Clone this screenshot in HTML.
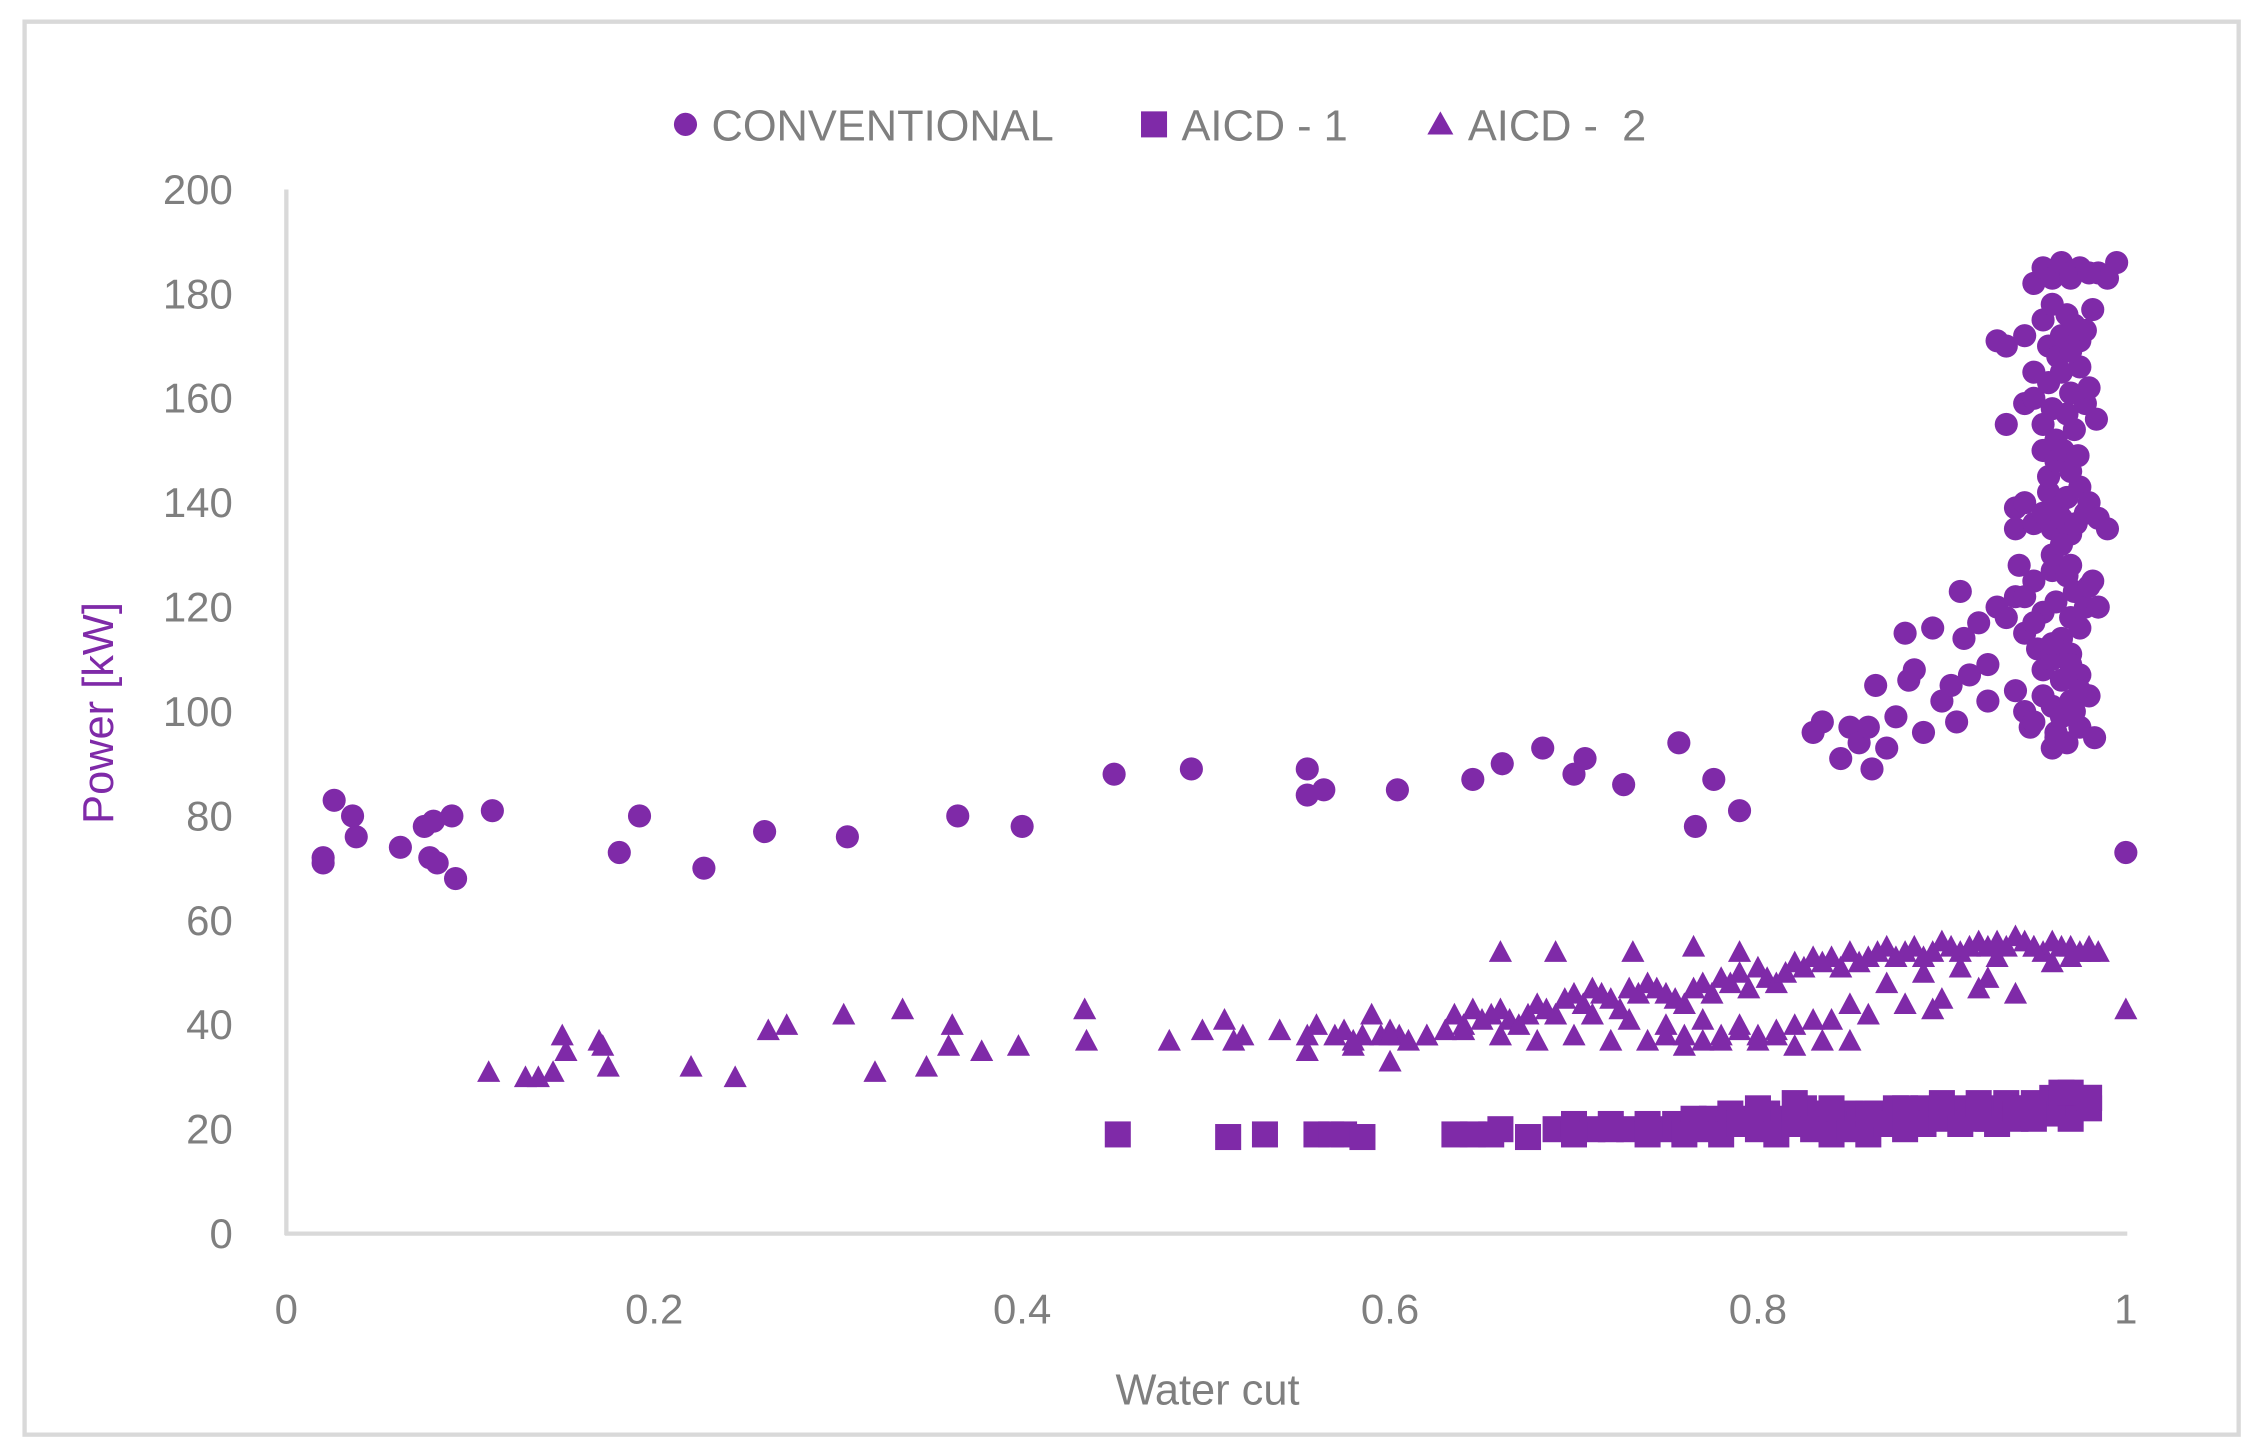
<!DOCTYPE html>
<html><head><meta charset="utf-8"><style>
html,body{margin:0;padding:0;background:#fff;}
svg{display:block;}
text{font-family:"Liberation Sans",sans-serif;}
</style></head><body>
<svg id="chart" width="2256" height="1452" viewBox="0 0 1560 1004" preserveAspectRatio="none" xmlns="http://www.w3.org/2000/svg">
<rect x="17" y="15" width="1531" height="977" fill="#fff" stroke="#d9d9d9" stroke-width="3"/>
<g id="legend">
<g><circle cx="474" cy="86" r="8" fill="#7f2aa8"/><text x="492" y="97" font-size="30" fill="#7f7f7f">CONVENTIONAL</text></g>
<g><rect x="789" y="77" width="18" height="18" fill="#7f2aa8"/><text x="817" y="97" font-size="30" fill="#7f7f7f">AICD - 1</text></g>
<g><polygon points="996,77 1005,93 987,93" fill="#7f2aa8"/><text x="1015" y="97" font-size="30" fill="#7f7f7f" xml:space="preserve">AICD -  2</text></g>
</g>
<line x1="198" y1="131" x2="198" y2="854" stroke="#d9d9d9" stroke-width="3"/>
<line x1="197" y1="853" x2="1471" y2="853" stroke="#d9d9d9" stroke-width="3"/>
<g id="yticks"></g>
<g id="xticks"></g>
<text x="835" y="971" font-size="30" fill="#7f7f7f" text-anchor="middle">Water cut</text>
<text x="0" y="0" font-size="30" fill="#7f2aa8" text-anchor="middle" transform="translate(78,493) rotate(-90)">Power [kW]</text>
<g id="marks"></g>
</svg>
<script>
const yTicks=[0,20,40,60,80,100,120,140,160,180,200];
const xTicks=[0,0.2,0.4,0.6,0.8,1];
const xTickLabels=["0","0.2","0.4","0.6","0.8","1"];
const convX=[0.02,0.02,0.026,0.036,0.038,0.062,0.075,0.08,0.078,0.082,0.09,0.092,0.112,0.181,0.192,0.227,0.26,0.305,0.365,0.4,0.45,0.492,0.555,0.555,0.564,0.604,0.645,0.661,0.683,0.7,0.706,0.727,0.757,0.766,0.776,0.79,
0.83,0.835,0.845,0.85,0.855,0.86,0.862,0.864,0.87,0.875,0.88,0.882,0.885,0.89,0.895,0.9,0.905,0.908,0.91,0.912,0.915,0.92,0.925,0.925,0.93,0.935,0.935,0.94,0.94,0.942,0.945,0.945,0.948,0.95,0.95,0.955,
0.93,0.935,0.94,0.945,0.95,0.952,0.955,0.958,0.96,0.962,0.965,0.968,0.97,0.972,0.975,0.978,0.98,0.982,0.985,
0.945,0.95,0.955,0.958,0.96,0.963,0.965,0.968,0.97,0.973,0.975,0.978,0.98,0.985,0.99,
0.95,0.955,0.958,0.96,0.962,0.965,0.968,0.97,0.972,0.975,0.978,0.98,0.984,
0.955,0.958,0.96,0.963,0.965,0.968,0.97,0.972,0.975,0.978,0.982,0.958,0.962,0.966,0.97,0.974,0.96,0.965,0.97,
0.94,0.945,0.95,0.955,0.96,0.962,0.965,0.97,0.975,0.98,0.955,0.96,0.965,0.97,0.975,0.96,0.962,0.968,0.972,0.975,0.983,0.96,0.97,0.95,0.945,
0.955,0.96,0.965,0.97,0.975,0.985,0.99,0.995,0.97,0.98,1.0];
const convY=[72,71,83,80,76,74,78,79,72,71,80,68,81,73,80,70,77,76,80,78,88,89,89,84,85,85,87,90,93,88,91,86,94,78,87,81,
96,98,91,97,94,97,89,105,93,99,115,106,108,96,116,102,105,98,123,114,107,117,102,109,171,155,170,139,135,128,159,172,97,182,165,150,
120,118,122,115,125,112,119,110,127,121,114,126,118,123,116,120,124,125,120,
140,136,138,142,135,139,137,141,134,136,143,138,140,137,135,
160,155,163,158,152,165,157,161,154,166,159,162,156,
175,170,178,168,172,176,169,174,171,173,177,145,148,150,146,149,130,132,128,
104,100,98,103,101,96,99,102,97,103,108,110,106,111,107,93,95,94,100,104,95,113,109,117,122,
185,183,186,184,185,184,183,186,183,184,73];
const a1X=[0.452,0.512,0.532,0.56,0.568,0.575,0.585,0.635,0.645,0.655,0.66,0.675,0.69,0.7,0.71,0.72,0.73,0.74,0.75,0.755,0.76,0.765,0.77,0.775,0.78,0.785,0.79,0.8,0.805,0.81,0.815,0.82,0.825,0.83,0.835,0.84,0.845,0.85,0.855,0.86,0.865,0.87,0.875,0.88,0.885,0.89,0.895,0.9,0.905,0.91,0.915,0.92,0.925,0.93,0.935,0.94,0.945,0.95,0.955,0.96,0.965,0.97,0.975,0.98,
0.76,0.77,0.78,0.79,0.8,0.81,0.82,0.83,0.84,0.85,0.86,0.87,0.88,0.89,0.9,0.91,0.92,0.93,0.94,0.95,0.96,0.97,0.98,0.7,0.72,0.74,
0.8,0.82,0.84,0.86,0.88,0.9,0.92,0.94,0.96,0.97,0.98,0.95,0.965];
const a1Y=[19,18.5,19,19,19,19,18.5,19,19,19,20,18.5,20,21,20,21,20,21,20,21,20,22,21,22,21,23,22,21,23,22,21,22,24,23,22,21,22,23,21,22,23,22,24,23,22,24,23,24,23,24,23,24,22,24,25,23,24,25,24,26,25,26,25,26,
19,20,19,21,20,19,21,20,19,20,19,21,20,21,22,21,22,21,22,22,23,22,24,19,20,19,
24,25,24,23,24,25,25,24,25,27,26,23,27];
const a2X=[0.11,0.13,0.137,0.145,0.15,0.152,0.17,0.172,0.175,0.22,0.244,0.262,0.272,0.303,0.32,0.335,0.348,0.36,0.362,0.378,0.398,0.434,0.435,0.48,0.498,0.51,0.515,0.52,0.54,0.555,0.555,0.56,
0.57,0.575,0.58,0.585,0.59,0.595,0.6,0.605,0.61,0.62,0.63,0.635,0.64,0.645,0.65,0.655,0.66,0.665,0.67,0.675,0.68,0.685,0.69,0.695,0.7,0.705,0.71,0.715,0.72,0.725,0.73,0.735,0.74,0.745,0.75,0.755,0.76,0.765,0.77,0.775,0.78,0.785,0.79,0.795,0.8,0.805,0.81,0.815,0.82,0.825,0.83,0.835,0.84,0.845,0.85,0.855,0.86,0.865,0.87,0.875,0.88,0.885,0.89,0.895,0.9,0.905,0.91,0.915,0.92,0.925,0.93,0.935,0.94,0.945,0.95,0.955,0.96,0.965,0.97,0.975,0.98,0.985,
0.6,0.62,0.64,0.66,0.68,0.7,0.72,0.74,0.76,0.78,0.8,0.82,0.84,0.86,0.88,0.9,0.92,0.94,0.96,0.98,0.71,0.73,0.75,0.77,0.79,0.81,0.83,0.85,0.87,0.89,0.91,0.93,0.95,0.97,
0.75,0.76,0.77,0.78,0.79,0.8,0.81,0.82,0.66,0.69,0.732,0.765,0.79,0.835,0.85,0.895,0.925,0.6,0.58,1.0];
const a2Y=[31,30,30,31,38,35,37,36,32,32,30,39,40,42,31,43,32,36,40,35,36,43,37,37,39,41,37,38,39,38,35,40,
38,39,37,38,42,38,39,38,37,38,39,42,40,43,41,42,43,41,40,42,44,43,42,45,46,44,47,46,45,43,47,46,48,47,46,45,44,47,48,46,49,48,50,47,51,49,48,50,52,51,53,52,53,51,54,52,53,54,55,53,54,55,53,54,56,55,54,55,56,55,56,55,57,56,55,54,56,55,55,54,55,54,
38,38,39,38,37,38,37,37,38,37,38,40,41,42,44,45,47,46,52,54,42,41,40,41,40,39,41,44,48,50,51,53,55,53,
38,36,37,38,39,37,38,36,54,54,54,55,54,37,37,43,49,33,36,43];
const NS='http://www.w3.org/2000/svg';
const COLOR='#7f2aa8';
function xs(v){return 198+v*1272;}
function ys(v){return 853-v*3.61;}
const yG=document.getElementById('yticks');
yTicks.forEach(t=>{const el=document.createElementNS(NS,'text');


el.setAttribute('x',161);el.setAttribute('y',ys(t)+10);el.setAttribute('text-anchor','end');el.setAttribute('font-size','29');el.setAttribute('fill','#7f7f7f');el.textContent=String(t);yG.appendChild(el);});
const xG=document.getElementById('xticks');
xTicks.forEach((t,i)=>{const el=document.createElementNS(NS,'text');


el.setAttribute('x',xs(t));el.setAttribute('y',915);el.setAttribute('text-anchor','middle');el.setAttribute('font-size','29');el.setAttribute('fill','#7f7f7f');el.textContent=xTickLabels[i];xG.appendChild(el);});
const M=document.getElementById('marks');
convX.forEach((x,i)=>{const el=document.createElementNS(NS,'circle');


el.setAttribute('cx',xs(x));el.setAttribute('cy',ys(convY[i]));el.setAttribute('r',8);el.setAttribute('fill',COLOR);M.appendChild(el);});
a1X.forEach((x,i)=>{const el=document.createElementNS(NS,'rect');


el.setAttribute('x',xs(x)-9);el.setAttribute('y',ys(a1Y[i])-9);el.setAttribute('width',18);el.setAttribute('height',18);el.setAttribute('fill',COLOR);M.appendChild(el);});
a2X.forEach((x,i)=>{const el=document.createElementNS(NS,'polygon');


const cx=xs(x),cy=ys(a2Y[i]);
el.setAttribute('points',`${cx},${cy-8} ${cx+8},${cy+7} ${cx-8},${cy+7}`);el.setAttribute('fill',COLOR);M.appendChild(el);});
</script>
</body></html>
